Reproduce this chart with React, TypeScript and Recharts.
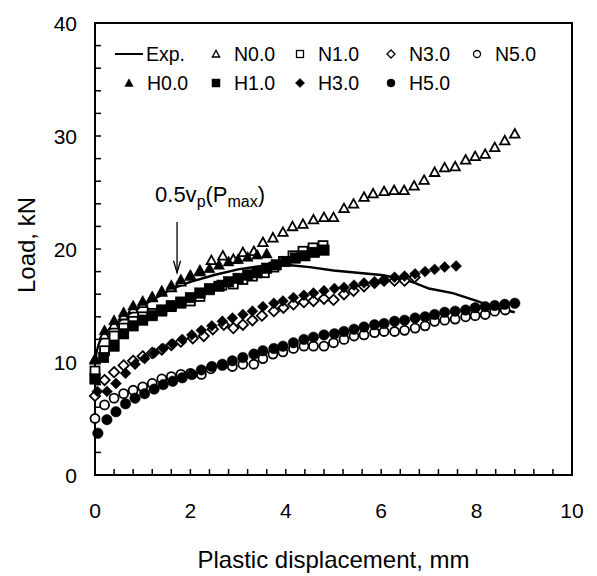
import React from "react";
import { ScatterChart, Scatter, XAxis, YAxis, ReferenceArea, ReferenceLine, Legend } from "recharts";

type Pt = [number, number];

// experimental curve (solid line)
const expCurve: Pt[] = [
  [0, 10.0], [0.03, 10.8], [0.07, 11.5], [0.12, 12.0], [0.2, 12.5], [0.3, 12.9], [0.45, 13.4],
  [0.6, 13.9], [0.8, 14.5], [1.0, 15.0], [1.25, 15.6], [1.5, 16.2], [1.75, 16.7], [2.0, 17.1],
  [2.5, 17.7], [3.0, 18.2], [3.5, 18.5], [4.0, 18.6], [4.5, 18.4], [5.0, 18.1], [5.5, 17.9],
  [6.0, 17.7], [6.4, 17.4], [6.7, 17.0], [7.0, 16.5], [7.5, 16.1], [8.0, 15.4], [8.4, 14.8], [8.8, 14.4],
];

const n00: Pt[] = [
  [0, 10.2], [0.2, 12.4], [0.4, 13.3], [0.6, 14.1], [0.8, 14.7], [1.0, 15.2], [1.2, 15.7], [1.4, 16.2],
  [1.6, 16.6], [1.8, 17.1], [2.0, 17.6], [2.2, 18.1], [2.44, 19.0], [2.68, 19.4], [2.9, 19.1], [3.1, 19.7],
  [3.33, 19.8], [3.52, 20.6], [3.73, 21.0], [3.94, 21.5], [4.14, 22.0], [4.36, 22.2], [4.58, 22.6],
  [4.8, 22.8], [5.0, 22.8], [5.22, 23.6], [5.42, 24.0], [5.64, 24.6], [5.83, 24.9], [6.06, 25.1],
  [6.27, 25.2], [6.48, 25.2], [6.69, 25.6], [6.9, 26.1], [7.12, 26.8], [7.33, 27.2], [7.55, 27.3],
  [7.77, 27.9], [7.97, 28.2], [8.18, 28.4], [8.38, 29.0], [8.59, 29.6], [8.8, 30.2],
];

const h00: Pt[] = [
  [0, 10.3], [0.2, 12.8], [0.4, 13.7], [0.6, 14.4], [0.8, 15.0], [1.0, 15.4], [1.2, 15.8], [1.4, 16.3],
  [1.6, 16.8], [1.8, 17.3], [2.0, 17.7], [2.2, 18.0], [2.4, 18.3], [2.6, 18.6], [2.8, 18.9], [3.0, 19.1],
  [3.2, 19.3], [3.4, 19.5], [3.6, 19.6],
];

const n10: Pt[] = [
  [0, 9.2], [0.2, 11.0], [0.4, 12.3], [0.6, 13.0], [0.8, 13.6], [1.0, 14.0], [1.2, 14.3], [1.4, 14.5],
  [1.6, 14.9], [1.8, 15.2], [2.0, 15.4], [2.2, 15.8], [2.4, 16.5], [2.66, 16.8], [2.9, 16.9], [3.1, 17.3],
  [3.3, 17.6], [3.55, 17.9], [3.75, 18.4], [3.95, 18.9], [4.15, 19.4], [4.36, 19.8], [4.57, 20.1], [4.78, 20.3],
];

const h10: Pt[] = [
  [0, 8.5], [0.18, 10.4], [0.4, 11.4], [0.6, 12.5], [0.8, 13.2], [1.0, 13.7], [1.2, 14.1], [1.4, 14.6],
  [1.6, 15.0], [1.8, 15.3], [2.0, 15.7], [2.2, 16.1], [2.4, 16.4], [2.6, 16.7], [2.8, 17.1], [3.0, 17.4],
  [3.2, 17.7], [3.4, 17.9], [3.6, 18.3], [3.8, 18.6], [4.0, 18.9], [4.2, 19.2], [4.4, 19.4], [4.6, 19.7], [4.8, 19.9],
];

const n30: Pt[] = [
  [0, 7.0], [0.2, 8.4], [0.4, 9.1], [0.6, 9.7], [0.8, 10.1], [1.0, 10.5], [1.2, 10.8], [1.4, 11.1],
  [1.6, 11.5], [1.8, 11.8], [2.05, 12.1], [2.28, 12.3], [2.47, 12.9], [2.7, 13.3], [2.9, 13.0], [3.1, 13.3],
  [3.3, 13.7], [3.5, 14.1], [3.75, 14.5], [3.95, 14.8], [4.16, 15.1], [4.38, 15.3], [4.58, 15.4], [4.8, 15.6],
  [5.0, 15.5], [5.22, 16.0], [5.42, 16.3], [5.64, 16.7], [5.86, 17.0], [6.06, 17.2], [6.28, 17.2],
  [6.49, 17.2], [6.7, 17.5],
];

const h30: Pt[] = [
  [0.05, 7.4], [0.25, 7.4], [0.44, 8.1], [0.64, 9.0], [0.84, 9.8], [1.04, 10.3], [1.24, 10.8], [1.43, 11.2],
  [1.63, 11.6], [1.83, 12.0], [2.03, 12.4], [2.23, 12.8], [2.45, 13.2], [2.67, 13.6], [2.88, 13.9], [3.1, 14.2],
  [3.3, 14.5], [3.52, 14.9], [3.75, 15.2], [3.94, 15.4], [4.16, 15.7], [4.38, 15.9], [4.58, 16.1], [4.8, 16.3],
  [5.02, 16.5], [5.22, 16.6], [5.43, 16.8], [5.64, 17.0], [5.86, 17.1], [6.06, 17.3], [6.28, 17.5],
  [6.49, 17.6], [6.71, 17.8], [6.92, 18.0], [7.12, 18.2], [7.33, 18.4], [7.57, 18.5],
];

const n50: Pt[] = [
  [0, 5.0], [0.2, 6.2], [0.4, 6.8], [0.6, 7.2], [0.8, 7.5], [1.0, 7.8], [1.2, 8.1], [1.4, 8.5], [1.6, 8.7],
  [1.8, 8.9], [2.0, 9.0], [2.23, 8.9], [2.43, 9.4], [2.67, 9.7], [2.88, 9.6], [3.1, 9.8], [3.33, 9.8],
  [3.52, 10.3], [3.73, 10.7], [3.94, 10.9], [4.16, 11.2], [4.38, 11.4], [4.58, 11.4], [4.8, 11.4], [5.0, 11.7],
  [5.22, 12.0], [5.43, 12.3], [5.64, 12.4], [5.86, 12.6], [6.06, 12.7], [6.28, 12.7], [6.49, 12.8], [6.71, 13.0],
  [6.92, 13.2], [7.12, 13.6], [7.33, 13.7], [7.55, 13.8], [7.77, 14.0], [7.97, 14.1], [8.18, 14.2], [8.38, 14.5], [8.6, 14.6],
];

const h50: Pt[] = [
  [0.06, 3.7], [0.25, 4.9], [0.44, 5.6], [0.64, 6.3], [0.84, 6.8], [1.04, 7.2], [1.24, 7.6], [1.43, 8.0],
  [1.63, 8.3], [1.83, 8.6], [2.03, 8.9], [2.23, 9.3], [2.45, 9.6], [2.67, 9.8], [2.88, 10.1], [3.1, 10.4],
  [3.33, 10.7], [3.52, 11.0], [3.75, 11.2], [3.94, 11.4], [4.16, 11.7], [4.38, 12.0], [4.58, 12.2], [4.8, 12.4],
  [5.02, 12.5], [5.22, 12.7], [5.43, 12.9], [5.64, 13.1], [5.86, 13.3], [6.06, 13.4], [6.28, 13.6], [6.49, 13.7],
  [6.71, 13.9], [6.92, 14.0], [7.12, 14.2], [7.33, 14.4], [7.55, 14.5], [7.77, 14.6], [7.97, 14.8], [8.18, 14.9],
  [8.38, 15.0], [8.59, 15.1], [8.8, 15.2],
];

const xTicks = [0, 0.4, 0.8, 1.2, 1.6, 2, 2.4, 2.8, 3.2, 3.6, 4, 4.4, 4.8, 5.2, 5.6, 6, 6.4, 6.8, 7.2, 7.6, 8, 8.4, 8.8, 9.2, 9.6, 10];
const yTicks = [0, 2, 4, 6, 8, 10, 12, 14, 16, 18, 20, 22, 24, 26, 28, 30, 32, 34, 36, 38, 40];
const xLabels = [0, 2, 4, 6, 8, 10];
const yLabels = [0, 10, 20, 30, 40];

// arrow annotation: x position and the y span it covers
const arrowX = 1.72;
const arrowTop = 22.4;
const arrowTip = 17.9;

type Kind = "tri" | "sq" | "dia" | "circ";

// N (open) series first, H (filled) series drawn over them
const series: { name: string; data: Pt[]; kind: Kind; filled: boolean }[] = [
  { name: "N0.0", data: n00, kind: "tri", filled: false },
  { name: "N1.0", data: n10, kind: "sq", filled: false },
  { name: "N3.0", data: n30, kind: "dia", filled: false },
  { name: "N5.0", data: n50, kind: "circ", filled: false },
  { name: "H0.0", data: h00, kind: "tri", filled: true },
  { name: "H1.0", data: h10, kind: "sq", filled: true },
  { name: "H3.0", data: h30, kind: "dia", filled: true },
  { name: "H5.0", data: h50, kind: "circ", filled: true },
];

const FONT = "'Liberation Sans', Arial, Helvetica, sans-serif";

const toRows = (pts: Pt[]) => pts.map(([x, y]) => ({ x, y }));

function Marker({ kind, filled, cx, cy, s, sw }: { kind: Kind; filled: boolean; cx: number; cy: number; s: number; sw: number }) {
  const fill = filled ? "#000" : "#fff";
  const stroke = "#000";
  const h = s / 2;
  if (kind === "tri") {
    return (
      <polygon
        points={`${cx},${cy - h * 1.05} ${cx + h * 1.05},${cy + h * 0.85} ${cx - h * 1.05},${cy + h * 0.85}`}
        fill={fill}
        stroke={stroke}
        strokeWidth={sw}
      />
    );
  }
  if (kind === "sq") {
    return <rect x={cx - h} y={cy - h} width={s} height={s} fill={fill} stroke={stroke} strokeWidth={sw} />;
  }
  if (kind === "dia") {
    const d = h * 1.15;
    return (
      <polygon
        points={`${cx},${cy - d} ${cx + d},${cy} ${cx},${cy + d} ${cx - d},${cy}`}
        fill={fill}
        stroke={stroke}
        strokeWidth={sw}
      />
    );
  }
  return <circle cx={cx} cy={cy} r={h} fill={fill} stroke={stroke} strokeWidth={sw} />;
}

function XTick({ x, y, payload }: any) {
  const v = payload.value as number;
  const labelled = xLabels.some((l) => Math.abs(l - v) < 1e-6);
  return (
    <g>
      <line x1={x} x2={x} y1={y} y2={y - 6} stroke="#000" strokeWidth={1.5} />
      {labelled && (
        <text x={x} y={y + 43} textAnchor="middle" fontFamily={FONT} fontSize={21} fill="#000">
          {v}
        </text>
      )}
    </g>
  );
}

function YTick({ x, y, payload }: any) {
  const v = payload.value as number;
  const labelled = yLabels.includes(v);
  return (
    <g>
      <line x1={x} x2={x + 6} y1={y} y2={y} stroke="#000" strokeWidth={1.5} />
      {labelled && (
        <text x={x - 18} y={y + 7.5} textAnchor="end" fontFamily={FONT} fontSize={21} fill="#000">
          {v}
        </text>
      )}
    </g>
  );
}

const legendRow1 = ["N0.0", "N1.0", "N3.0", "N5.0"];
const legendRow2 = ["H0.0", "H1.0", "H3.0", "H5.0"];
const row1X = [216, 300, 391, 477];
const row2X = [129, 216, 300, 391];

function LegendBox() {
  const item = (name: string, mx: number, my: number) => {
    const s = series.find((d) => d.name === name)!;
    return (
      <g key={name}>
        <Marker kind={s.kind} filled={s.filled} cx={mx} cy={my} s={s.filled ? 8 : 7} sw={s.filled ? 0.5 : 1.3} />
        <text x={mx + 18} y={my + 7} fontFamily={FONT} fontSize={19.5} fill="#000">
          {name}
        </text>
      </g>
    );
  };
  return (
    <svg width={597} height={100} style={{ display: "block" }}>
      <line x1={115} x2={143} y1={54} y2={54} stroke="#000" strokeWidth={2} />
      <text x={146} y={61} fontFamily={FONT} fontSize={19.5} fill="#000">
        Exp.
      </text>
      {legendRow1.map((n, i) => item(n, row1X[i], 54))}
      {legendRow2.map((n, i) => item(n, row2X[i], 83))}
    </svg>
  );
}

function ArrowShape(props: any) {
  const { x1, y1, x2, y2 } = props;
  return (
    <g>
      <line x1={x1} y1={y1} x2={x2} y2={y2} stroke="#000" strokeWidth={1.3} />
      <polyline
        points={`${x2 - 3.5},${y2 - 12} ${x2},${y2} ${x2 + 3.5},${y2 - 12}`}
        fill="none"
        stroke="#000"
        strokeWidth={1.3}
      />
      <text x={x1 - 22} y={y1 - 20} fontFamily={FONT} fontSize={22} fill="#000">
        0.5v
        <tspan fontSize={16} dy={5}>p</tspan>
        <tspan fontSize={22} dy={-5}>(P</tspan>
        <tspan fontSize={16} dy={5}>max</tspan>
        <tspan fontSize={22} dy={-5}>)</tspan>
      </text>
    </g>
  );
}

export default function App() {
  return (
    <div style={{ position: "absolute", left: 0, top: 0, background: "#fff" }}>
      <ScatterChart width={597} height={576} margin={{ top: 23, right: 25, bottom: 41, left: 35 }}>
        <XAxis
          type="number"
          dataKey="x"
          domain={[0, 10]}
          ticks={xTicks}
          interval={0}
          axisLine={false}
          tickLine={false}
          tickSize={0}
          tickMargin={0}
          height={60}
          tick={<XTick />}
          label={{
            content: ({ viewBox }: any) => (
              <text
                x={viewBox.x + viewBox.width / 2}
                y={viewBox.y + 93}
                textAnchor="middle"
                fontFamily={FONT}
                fontSize={24}
                fill="#000"
              >
                Plastic displacement, mm
              </text>
            ),
          }}
        />
        <YAxis
          type="number"
          dataKey="y"
          domain={[0, 40]}
          ticks={yTicks}
          interval={0}
          axisLine={false}
          tickLine={false}
          tickSize={0}
          tickMargin={0}
          width={60}
          tick={<YTick />}
          label={{
            content: ({ viewBox }: any) => {
              const cx = viewBox.x - 9;
              const cy = viewBox.y + viewBox.height / 2 - 4;
              return (
                <text
                  x={cx}
                  y={cy}
                  transform={`rotate(-90, ${cx}, ${cy})`}
                  textAnchor="middle"
                  dominantBaseline="central"
                  fontFamily={FONT}
                  fontSize={24}
                  fill="#000"
                >
                  Load, kN
                </text>
              );
            },
          }}
        />
        <ReferenceArea x1={0} x2={10} y1={0} y2={40} fill="none" stroke="#000" strokeWidth={2} />
        <Scatter
          name="Exp."
          data={toRows(expCurve)}
          line={{ stroke: "#000", strokeWidth: 2.4 }}
          lineType="joint"
          shape={() => <g />}
          isAnimationActive={false}
        />
        {series.map((s) => (
          <Scatter
            key={s.name}
            name={s.name}
            data={toRows(s.data)}
            isAnimationActive={false}
            shape={(p: any) => (
              <Marker
                kind={s.kind}
                filled={s.filled}
                cx={p.cx}
                cy={p.cy}
                s={s.filled ? (s.kind === "dia" ? 9.5 : 10.5) : 9}
                sw={s.filled ? 0.5 : 1.8}
              />
            )}
          />
        ))}
        <ReferenceLine
          segment={[
            { x: arrowX, y: arrowTop },
            { x: arrowX, y: arrowTip },
          ]}
          shape={<ArrowShape />}
        />
        <Legend
          layout="horizontal"
          verticalAlign="middle"
          align="center"
          wrapperStyle={{ left: 0, top: 0, width: 597, height: 100 }}
          content={() => <LegendBox />}
        />
      </ScatterChart>
    </div>
  );
}
